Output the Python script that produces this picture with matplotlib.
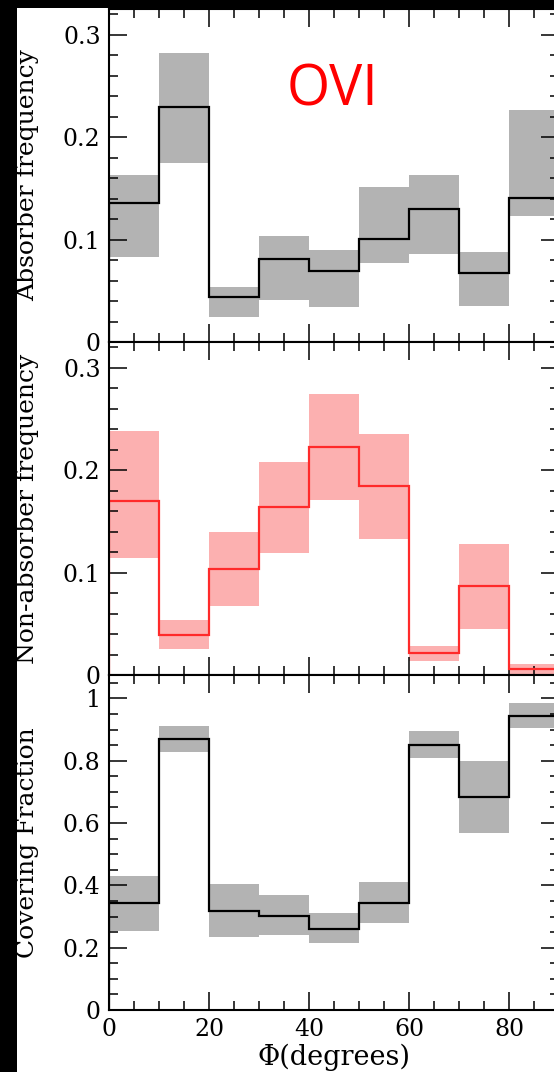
import numpy as np
import matplotlib
matplotlib.use("Agg")
from matplotlib import pyplot as plt
from matplotlib.patches import Rectangle
from matplotlib.ticker import MultipleLocator, FuncFormatter

plt.rcParams['font.family'] = ['DejaVu Serif']

# bin edges in Phi (degrees)
edges = [0, 10, 20, 30, 40, 50, 60, 70, 80, 90]

# absorber frequency (black step) and its band
abs_freq = [0.136, 0.229, 0.044, 0.081, 0.069, 0.101, 0.130, 0.067, 0.141]
abs_lo = [0.083, 0.175, 0.024, 0.041, 0.034, 0.077, 0.086, 0.035, 0.123]
abs_hi = [0.163, 0.282, 0.054, 0.103, 0.090, 0.151, 0.163, 0.088, 0.226]

# non-absorber frequency (red step) and its band
non_freq = [0.170, 0.039, 0.103, 0.164, 0.223, 0.184, 0.021, 0.087, 0.006]
non_lo = [0.114, 0.025, 0.067, 0.119, 0.171, 0.133, 0.014, 0.045, 0.001]
non_hi = [0.238, 0.054, 0.140, 0.208, 0.274, 0.235, 0.028, 0.128, 0.011]

# covering fraction and its band
cov = [0.343, 0.870, 0.318, 0.302, 0.260, 0.343, 0.851, 0.684, 0.944]
cov_lo = [0.254, 0.828, 0.234, 0.241, 0.215, 0.279, 0.809, 0.568, 0.905]
cov_hi = [0.430, 0.912, 0.404, 0.369, 0.311, 0.411, 0.896, 0.800, 0.985]

W, H = 554, 1072
fig = plt.figure(figsize=(W / 100, H / 100), dpi=100, facecolor="black")
fig.patches.append(Rectangle((17 / W, 0), 1, (H - 8) / H, transform=fig.transFigure,
                             facecolor="white", edgecolor="none", zorder=-10))

left = 109 / W
width = 450 / W


def fmt(v, pos):
    s = "%.1f" % v
    if s.endswith(".0"):
        s = s[:-2]
    return s


def make_axes(top_px, bot_px):
    ax = fig.add_axes([left, 1 - bot_px / H, width, (bot_px - top_px) / H])
    ax.set_xlim(0, 90)
    for sp in ax.spines.values():
        sp.set_linewidth(1.5)
    ax.tick_params(which="both", direction="in", top=True, right=True,
                   labelsize=17, width=1.1, pad=6)
    ax.tick_params(which="major", length=13)
    ax.tick_params(which="minor", length=6.5)
    ax.xaxis.set_major_locator(MultipleLocator(20))
    ax.xaxis.set_minor_locator(MultipleLocator(5))
    ax.yaxis.set_major_formatter(FuncFormatter(fmt))
    return ax


def label(ax, txt):
    ax.set_ylabel(txt, fontsize=18, va="center", family="DejaVu Serif")
    ax.yaxis.set_label_coords(-81 / 450, 0.5)


def draw(ax, vals, lo, hi, line_c, band_c):
    lo = np.array(lo)
    hi = np.array(hi)
    ax.bar(edges[:-1], hi - lo, bottom=lo, width=10, align="edge",
           color=band_c, edgecolor="none", zorder=1)
    ax.stairs(vals, edges, color=line_c, lw=1.6, zorder=2)


ax1 = make_axes(9, 342)
draw(ax1, abs_freq, abs_lo, abs_hi, "black", "#b3b3b3")
ax1.set_ylim(0, 0.325)
ax1.yaxis.set_major_locator(MultipleLocator(0.1))
ax1.yaxis.set_minor_locator(MultipleLocator(0.02))
label(ax1, "Absorber frequency")
ax1.tick_params(labelbottom=False)
ax1.text(0.497, 0.755, "OVI", transform=ax1.transAxes, color="red",
         fontsize=40, family="Open Sans", ha="center", va="center")

ax2 = make_axes(342, 675)
draw(ax2, non_freq, non_lo, non_hi, "#ff2a2a", "#fcb0b0")
ax2.set_ylim(0, 0.325)
ax2.yaxis.set_major_locator(MultipleLocator(0.1))
ax2.yaxis.set_minor_locator(MultipleLocator(0.02))
label(ax2, "Non-absorber frequency")
ax2.tick_params(labelbottom=False)

ax3 = make_axes(675, 1010)
draw(ax3, cov, cov_lo, cov_hi, "black", "#b3b3b3")
ax3.set_ylim(0, 1.075)
ax3.yaxis.set_major_locator(MultipleLocator(0.2))
ax3.yaxis.set_minor_locator(MultipleLocator(0.05))
label(ax3, "Covering Fraction")
ax3.tick_params(axis="x", pad=6)
ax3.set_xlabel("Φ(degrees)", fontsize=19.5, labelpad=2)

for ax in (ax1, ax2, ax3):
    for t in ax.get_xticklabels() + ax.get_yticklabels():
        t.set_family("DejaVu Serif")

plt.savefig("out.png", dpi=100, facecolor=fig.get_facecolor())
